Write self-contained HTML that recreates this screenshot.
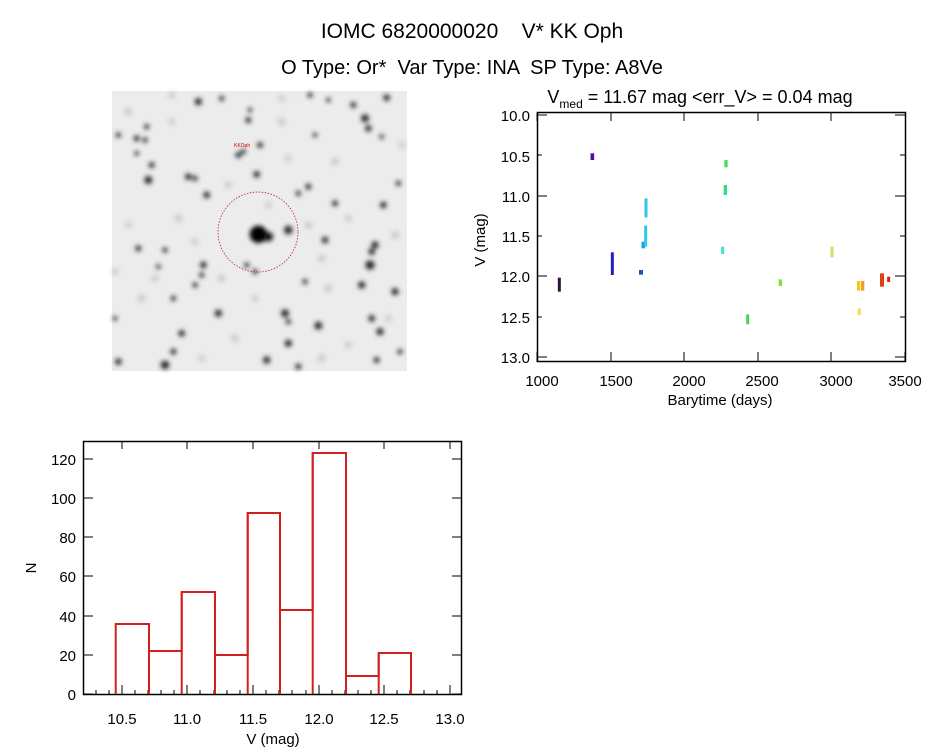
<!DOCTYPE html>
<html><head><meta charset="utf-8"><style>
html,body{margin:0;padding:0;background:#fff;width:944px;height:747px;overflow:hidden}
svg{display:block}
text{font-family:"Liberation Sans",sans-serif;fill:#000}
</style></head><body>
<svg width="944" height="747" viewBox="0 0 944 747">
<defs>
<filter id="b" x="-1" y="-1" width="3" height="3"><feGaussianBlur stdDeviation="7"/></filter>
<filter id="f" x="-1" y="-1" width="3" height="3"><feGaussianBlur stdDeviation="9"/></filter>
</defs>
<text x="472" y="38" font-size="21" text-anchor="middle" xml:space="preserve">IOMC 6820000020    V* KK Oph</text>
<text x="472" y="74" font-size="20" text-anchor="middle" xml:space="preserve">O Type: Or*  Var Type: INA  SP Type: A8Ve</text>

<!-- sky image -->
<rect x="112" y="91" width="295" height="280" fill="#ececec"/>
<g transform="translate(95,85) scale(0.33333)" fill="#999" filter="url(#f)" opacity="0.7">
<circle cx="100" cy="80" r="9"/><circle cx="230" cy="110" r="8"/><circle cx="560" cy="110" r="9"/><circle cx="720" cy="230" r="9"/><circle cx="250" cy="400" r="9"/><circle cx="100" cy="420" r="8"/><circle cx="380" cy="580" r="9"/><circle cx="700" cy="610" r="9"/><circle cx="140" cy="640" r="9"/><circle cx="420" cy="760" r="9"/><circle cx="760" cy="780" r="8"/><circle cx="900" cy="450" r="9"/><circle cx="640" cy="420" r="9"/><circle cx="520" cy="360" r="8"/><circle cx="400" cy="300" r="8"/><circle cx="580" cy="220" r="8"/><circle cx="300" cy="470" r="8"/><circle cx="680" cy="520" r="9"/><circle cx="180" cy="580" r="8"/><circle cx="480" cy="640" r="8"/><circle cx="320" cy="820" r="8"/><circle cx="680" cy="820" r="9"/><circle cx="880" cy="700" r="8"/><circle cx="60" cy="560" r="8"/><circle cx="230" cy="30" r="8"/><circle cx="560" cy="40" r="8"/><circle cx="920" cy="180" r="8"/><circle cx="760" cy="400" r="8"/>
</g>
<g transform="translate(95,85) scale(0.33333)" fill="#2a2a2a" filter="url(#b)">
<circle cx="310" cy="50" r="11"/><circle cx="380" cy="40" r="8"/><circle cx="645" cy="30" r="8"/><circle cx="700" cy="45" r="7"/><circle cx="875" cy="38" r="10"/><circle cx="775" cy="60" r="9"/><circle cx="810" cy="100" r="12"/><circle cx="820" cy="130" r="10"/><circle cx="465" cy="75" r="7"/><circle cx="460" cy="105" r="9"/><circle cx="155" cy="125" r="8"/><circle cx="70" cy="150" r="8"/><circle cx="125" cy="160" r="9"/><circle cx="150" cy="165" r="8"/><circle cx="495" cy="180" r="9"/><circle cx="430" cy="210" r="9"/><circle cx="445" cy="200" r="8"/><circle cx="660" cy="150" r="7"/><circle cx="860" cy="155" r="7"/><circle cx="170" cy="240" r="9"/><circle cx="485" cy="268" r="10"/><circle cx="160" cy="285" r="12"/><circle cx="280" cy="275" r="10"/><circle cx="300" cy="280" r="8"/><circle cx="335" cy="330" r="10"/><circle cx="640" cy="305" r="9"/><circle cx="610" cy="325" r="8"/><circle cx="910" cy="295" r="8"/><circle cx="720" cy="355" r="9"/><circle cx="865" cy="360" r="10"/><circle cx="580" cy="435" r="13"/><circle cx="690" cy="465" r="10"/><circle cx="840" cy="480" r="11"/><circle cx="825" cy="540" r="14"/><circle cx="830" cy="500" r="10"/><circle cx="130" cy="490" r="9"/><circle cx="210" cy="495" r="8"/><circle cx="325" cy="540" r="10"/><circle cx="320" cy="570" r="8"/><circle cx="300" cy="600" r="8"/><circle cx="800" cy="600" r="11"/><circle cx="900" cy="620" r="11"/><circle cx="235" cy="640" r="8"/><circle cx="630" cy="590" r="8"/><circle cx="370" cy="685" r="11"/><circle cx="570" cy="685" r="12"/><circle cx="580" cy="710" r="8"/><circle cx="670" cy="722" r="12"/><circle cx="830" cy="700" r="10"/><circle cx="855" cy="740" r="11"/><circle cx="260" cy="745" r="10"/><circle cx="580" cy="775" r="11"/><circle cx="70" cy="830" r="10"/><circle cx="210" cy="840" r="13"/><circle cx="235" cy="800" r="9"/><circle cx="515" cy="825" r="11"/><circle cx="610" cy="845" r="9"/><circle cx="845" cy="825" r="9"/><circle cx="915" cy="800" r="8"/><circle cx="190" cy="545" r="7"/><circle cx="480" cy="560" r="8"/><circle cx="455" cy="540" r="8"/><circle cx="60" cy="700" r="7"/><circle cx="125" cy="205" r="7"/>
<circle cx="490" cy="448" r="26" fill="#000"/><circle cx="520" cy="455" r="14" fill="#111"/>
</g>
<circle cx="258" cy="232" r="40" fill="none" stroke="#c02020" stroke-width="0.8" stroke-dasharray="1.5,1.5"/>
<text x="234" y="147" font-size="5" style="fill:#c00">KKOph</text>

<!-- light curve -->
<text x="700" y="103" font-size="18" text-anchor="middle">V<tspan font-size="12" dy="5">med</tspan><tspan dy="-5"> = 11.67 mag &lt;err_V&gt; = 0.04 mag</tspan></text>
<rect x="537.5" y="112.5" width="368" height="249" fill="none" stroke="#000" stroke-width="1.5"/>
<g stroke="#000" stroke-width="1">
<path d="M537 115h10M537 155h5M537 196h10M537 236h5M537 276h10M537 317h5M537 357h10M905 115h-10M905 196h-10M905 276h-10M905 357h-10M905 155h-5M905 236h-5M905 317h-5"/>
<path d="M537 362v-10M611 362v-10M684 362v-10M758 362v-10M831 362v-10M905 362v-10M537 113v8M611 113v8M684 113v8M758 113v8M831 113v8"/>
</g>
<g font-size="15" text-anchor="end">
<text x="530" y="121">10.0</text><text x="530" y="162">10.5</text><text x="530" y="202">11.0</text><text x="530" y="242">11.5</text><text x="530" y="282">12.0</text><text x="530" y="323">12.5</text><text x="530" y="363">13.0</text>
</g>
<g font-size="15" text-anchor="middle">
<text x="542" y="386">1000</text><text x="616" y="386">1500</text><text x="689" y="386">2000</text><text x="762" y="386">2500</text><text x="836" y="386">3000</text><text x="905" y="386">3500</text>
<text x="720" y="405">Barytime (days)</text>
</g>
<text x="0" y="0" font-size="15" text-anchor="middle" transform="translate(485,240) rotate(-90)">V (mag)</text>
<g transform="translate(470,80) scale(0.33333)" stroke-width="9">
<path d="M268 593V635" stroke="#301040"/><path d="M367 220V240" stroke="#5010a0" stroke-width="11"/><path d="M427 517V585" stroke="#2020c0"/><path d="M513 570V584" stroke="#2050d0" stroke-width="12"/><path d="M520 485V505" stroke="#20a0e0" stroke-width="11"/><path d="M528 355V412M527 437V500" stroke="#30c8e8"/><path d="M758 500V522" stroke="#40e0d0"/><path d="M766 315V345" stroke="#30e080" stroke-width="10"/><path d="M768 240V262" stroke="#40e060" stroke-width="10"/><path d="M833 703V733" stroke="#50d050"/><path d="M931 598V618" stroke="#80e040" stroke-width="10"/><path d="M1086 500V532" stroke="#d0e060"/><path d="M1168 685V705" stroke="#f0e060" stroke-width="10"/><path d="M1166 603V632" stroke="#f0c820" stroke-width="10"/><path d="M1178 603V632" stroke="#f0a020" stroke-width="10"/><path d="M1236 580V620" stroke="#e04010" stroke-width="12"/><path d="M1256 590V606" stroke="#e02010"/>
</g>

<!-- histogram -->
<rect x="83.5" y="441.5" width="378" height="253" fill="none" stroke="#000" stroke-width="1.5"/>
<g stroke="#000" stroke-width="1">
<path d="M83 694h10M83 655h10M83 616h10M83 576h10M83 537h10M83 498h10M83 459h10M462 694h-10M462 655h-10M462 616h-10M462 576h-10M462 537h-10M462 498h-10M462 459h-10"/>
<path d="M122 695v-10M187 695v-10M253 695v-10M319 695v-10M384 695v-10M450 695v-10M122 441v8M187 441v8M253 441v8M319 441v8M384 441v8M450 441v8"/>
<path d="M96 695v-5M109 695v-5M135 695v-5M148 695v-5M161 695v-5M174 695v-5M200 695v-5M214 695v-5M227 695v-5M240 695v-5M266 695v-5M279 695v-5M292 695v-5M306 695v-5M332 695v-5M345 695v-5M358 695v-5M371 695v-5M397 695v-5M410 695v-5M424 695v-5M437 695v-5"/>
</g>
<g fill="none" stroke="#d02020" stroke-width="2">
<path d="M115.7 694V624H149V651H181.7V592H215V655H247.7V513H280V610H312.7V453H346V676H378.7V653H411V694"/>
<path d="M149 694V651M181.7 694V592M215 694V655M247.7 694V513M280 694V610M312.7 694V453M346 694V676M378.7 694V653"/>
</g>
<g font-size="15" text-anchor="end">
<text x="76" y="700">0</text><text x="76" y="661">20</text><text x="76" y="622">40</text><text x="76" y="582">60</text><text x="76" y="543">80</text><text x="76" y="504">100</text><text x="76" y="465">120</text>
</g>
<g font-size="15" text-anchor="middle">
<text x="122" y="724">10.5</text><text x="187" y="724">11.0</text><text x="253" y="724">11.5</text><text x="319" y="724">12.0</text><text x="384" y="724">12.5</text><text x="450" y="724">13.0</text>
<text x="273" y="744">V (mag)</text>
</g>
<text x="0" y="0" font-size="15" text-anchor="middle" transform="translate(36,568) rotate(-90)">N</text>
</svg>
</body></html>
